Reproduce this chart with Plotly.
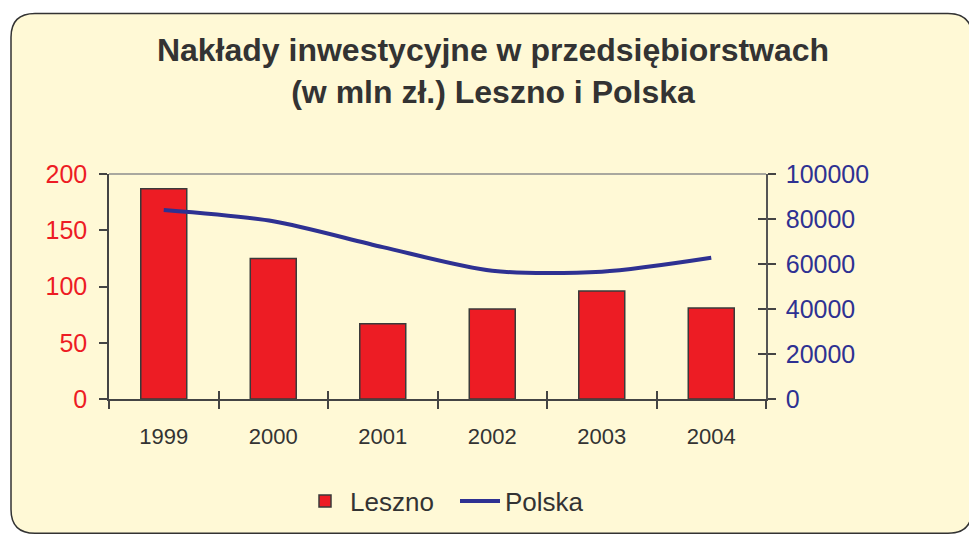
import plotly.graph_objects as go

years = ["1999", "2000", "2001", "2002", "2003", "2004"]
leszno = [187, 125, 67, 80, 96, 81]
polska = [84000, 79000, 67500, 57000, 56600, 62800]
left_ticks = [0, 50, 100, 150, 200]
right_ticks = [0, 20000, 40000, 60000, 80000, 100000]
title_lines = ["Nakłady inwestycyjne w przedsiębiorstwach", "(w mln zł.) Leszno i Polska"]

W, H = 969, 536
# plot area in page pixels: x 109..766, y 174..400
ML, MT = 109, 174
MR = W - 766
MB = H - 401
PW = W - ML - MR
PH = H - MT - MB


def px(x):  # page pixel -> paper
    return (x - ML) / PW


def py(y):
    return (H - MB - y) / PH


BG = "#FFF9D6"
RED = "#ED1C24"
NAVY = "#2E3192"
DARK = "#333333"
FONT = "Liberation Sans, Arial, sans-serif"

# rounded frame (page pixels)
x0, x1, y0, y1, r = 11, 972, 12, 536.5, 24
box = (
    f"M {px(x0 + r)},{py(y0)} L {px(x1 - r)},{py(y0)} "
    f"Q {px(x1)},{py(y0)} {px(x1)},{py(y0 + r)} L {px(x1)},{py(y1 - r)} "
    f"Q {px(x1)},{py(y1)} {px(x1 - r)},{py(y1)} L {px(x0 + r)},{py(y1)} "
    f"Q {px(x0)},{py(y1)} {px(x0)},{py(y1 - r)} L {px(x0)},{py(y0 + r)} "
    f"Q {px(x0)},{py(y0)} {px(x0 + r)},{py(y0)} Z"
)

fig = go.Figure()
fig.add_trace(go.Bar(
    x=years, y=leszno, name="Leszno", width=0.42,
    marker=dict(color=RED, line=dict(color="#3a3a3a", width=1.5)),
    xaxis="x", yaxis="y",
))
fig.add_trace(go.Scatter(
    x=years, y=polska, name="Polska", mode="lines",
    line=dict(color=NAVY, width=4, shape="spline", smoothing=0.8),
    xaxis="x", yaxis="y2",
))
# helper trace so the overlay axes (inner halves of crossing ticks) are drawn
fig.add_trace(go.Scatter(
    x=years, y=polska, mode="markers", marker=dict(opacity=0),
    showlegend=False, hoverinfo="skip", xaxis="x2", yaxis="y3",
))

fig.update_layout(
    width=W, height=H,
    margin=dict(l=ML, r=MR, t=MT, b=MB, pad=0),
    paper_bgcolor="white",
    plot_bgcolor="rgba(0,0,0,0)",
    font=dict(family=FONT, color=DARK),
    title=dict(
        text="<b>" + "<br>".join(title_lines) + "</b>",
        font=dict(family=FONT, size=32, color=DARK),
        x=493 / W, xanchor="center", xref="container",
        y=1 - 61 / H, yanchor="top", yref="container",
    ),
    showlegend=True,
    legend=dict(
        orientation="h", x=px(300), xanchor="left", y=py(504), yanchor="middle",
        font=dict(family=FONT, size=26, color=DARK),
        bgcolor="rgba(0,0,0,0)", itemwidth=40, entrywidth=100,
    ),
    xaxis=dict(
        type="category", categoryarray=years, range=[-0.5, 5.5],
        tickson="boundaries", ticks="outside", ticklen=8, tickwidth=1.5, tickcolor="#444",
        showline=True, linecolor="#444", linewidth=1.5,
        showgrid=False, zeroline=False, ticklabelstandoff=17,
        tickfont=dict(family=FONT, size=22, color=DARK),
    ),
    xaxis2=dict(
        type="category", categoryarray=years, range=[-0.5, 5.5], overlaying="x", anchor="y",
        tickson="boundaries", ticks="inside", ticklen=8, tickwidth=1.5, tickcolor="#444",
        showticklabels=False, showline=False, showgrid=False, zeroline=False,
    ),
    yaxis=dict(
        range=[0, 200], tickvals=left_ticks, ticks="outside", ticklen=8, tickwidth=1.5,
        tickcolor="#444", showline=True, linecolor="#444", linewidth=1.5,
        showgrid=False, zeroline=False, ticklabelstandoff=7,
        tickfont=dict(family=FONT, size=25, color=RED),
    ),
    yaxis2=dict(
        range=[0, 100000], tickvals=right_ticks, tickformat="d",
        overlaying="y", side="right", anchor="x",
        ticks="outside", ticklen=8, tickwidth=1.5, tickcolor="#444",
        showline=True, linecolor="#555", linewidth=1.5,
        showgrid=False, zeroline=False, ticklabelstandoff=5,
        tickfont=dict(family=FONT, size=25, color=NAVY),
    ),
    yaxis3=dict(
        range=[0, 100000], tickvals=right_ticks, overlaying="y", side="right", anchor="x2",
        ticks="inside", ticklen=8, tickwidth=1.5, tickcolor="#444",
        showticklabels=False, showline=False, showgrid=False, zeroline=False,
    ),
    shapes=[
        dict(type="path", path=box, xref="paper", yref="paper", layer="below",
             fillcolor=BG, line=dict(color=DARK, width=1.5)),
        dict(type="line", xref="paper", yref="paper", x0=0, x1=1, y0=1, y1=1,
             line=dict(color="#8c8c8c", width=1.5), layer="below"),
    ],
)

fig.write_html(
    "out.html",
    config={"displayModeBar": False},
    post_script="document.body.style.margin='0';document.body.style.overflow='hidden';",
)
